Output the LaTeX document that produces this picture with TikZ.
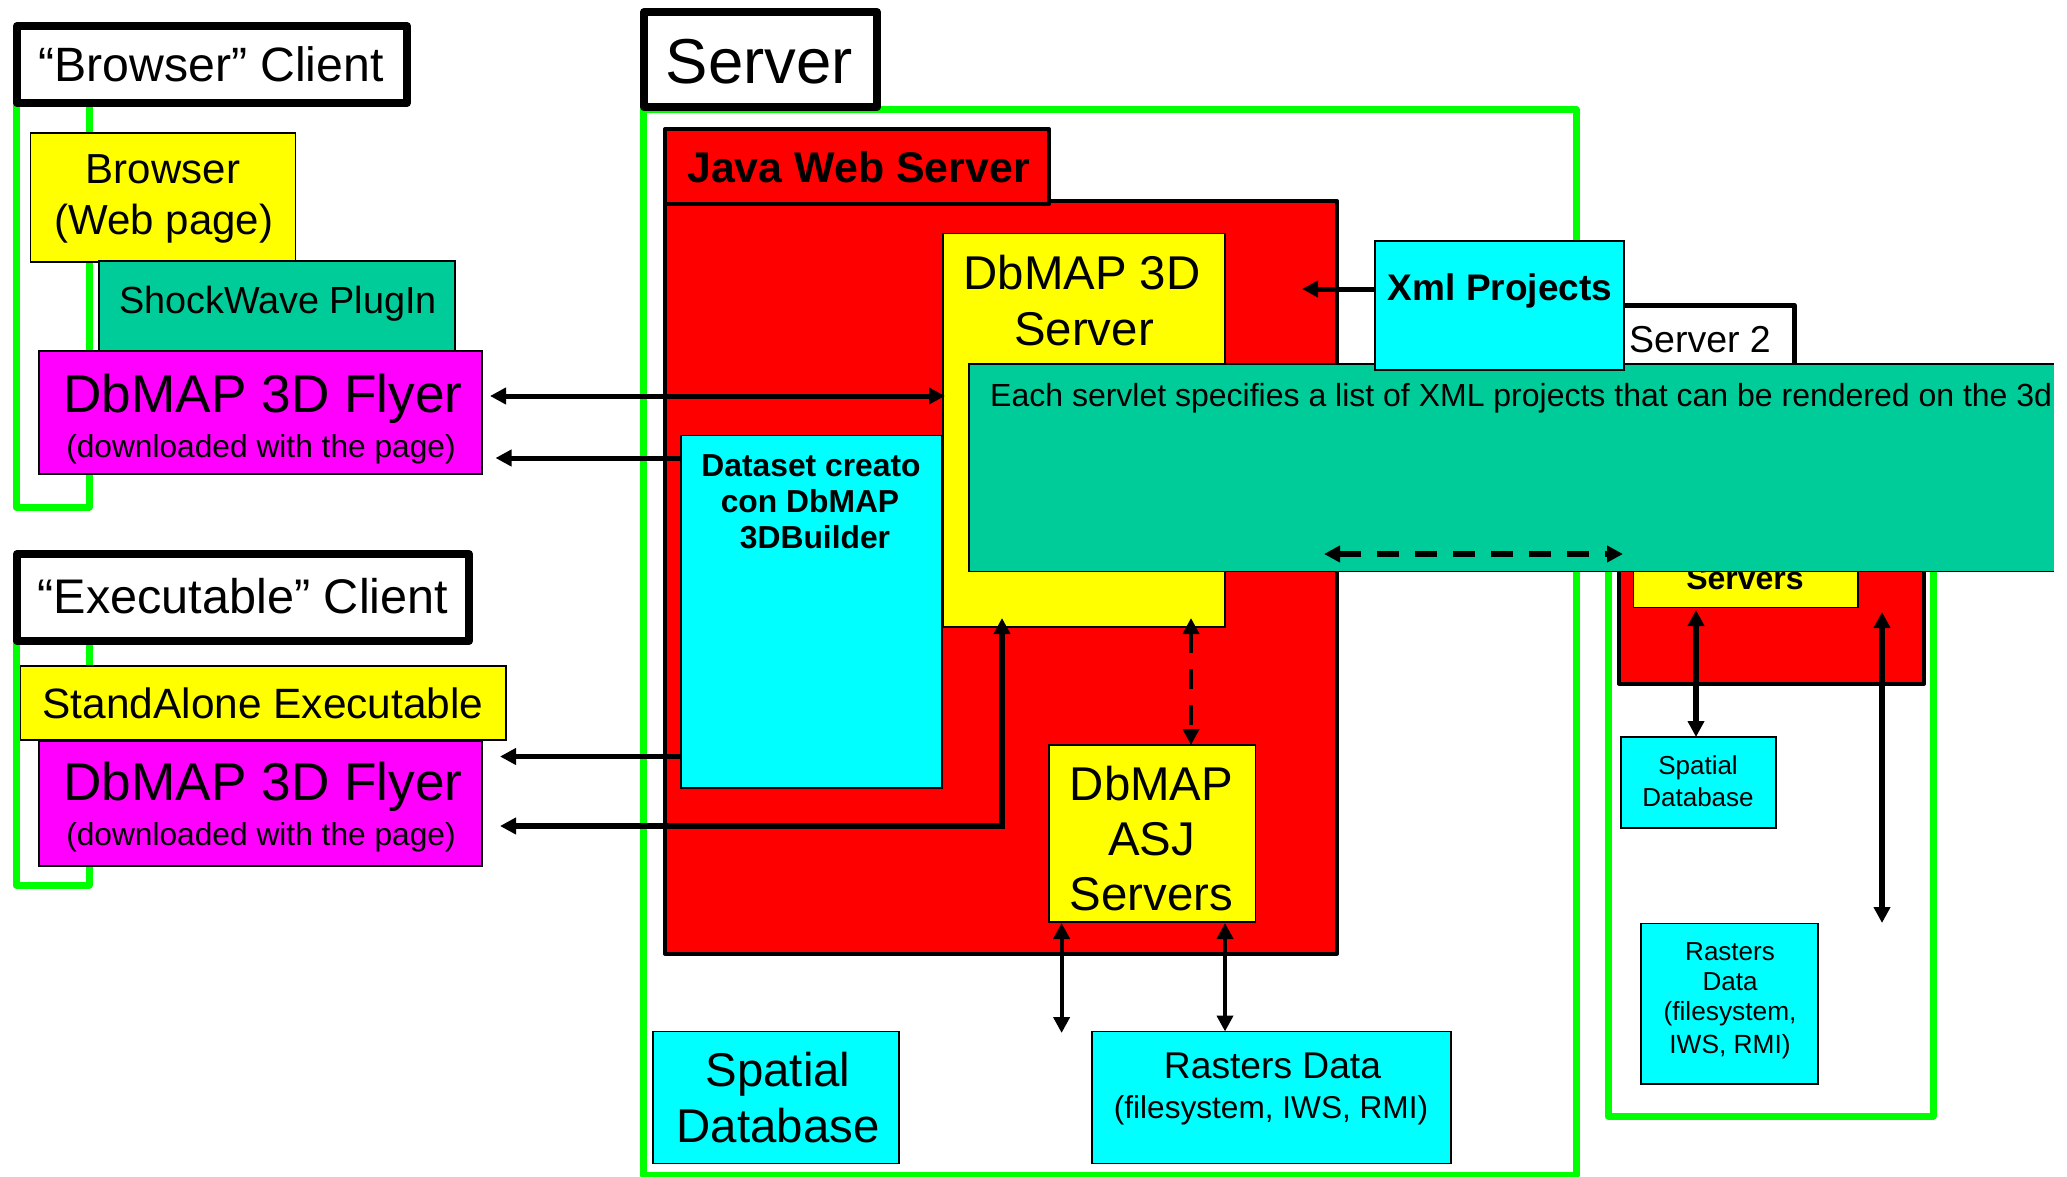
\documentclass[tikz,border=0pt]{standalone}
\usepackage{fontspec}
\setmainfont{Liberation Sans}
\usetikzlibrary{arrows.meta}
\definecolor{gfr}{HTML}{00FF00}
\definecolor{teal2}{HTML}{00CC99}
\definecolor{pyel}{HTML}{FFFF00}
\definecolor{pcyn}{HTML}{00FFFF}
\definecolor{pmag}{HTML}{FF00FF}
\definecolor{pred}{HTML}{FF0000}
\tikzset{
  box/.style={draw=black,line width=1.8pt,inner sep=0pt,outer sep=0pt},
  yel/.style={box,fill=pyel},
  cyn/.style={box,fill=pcyn},
  mag/.style={box,fill=pmag},
  tea/.style={box,fill=teal2},
  redbox/.style={box,fill=pred,line width=4pt,line join=round},
  titlebox/.style={box,fill=white,line width=8pt,line join=round},
  frame/.style={draw=gfr,line width=7pt,line join=round},
  lbl/.style={anchor=base,inner sep=0pt,outer sep=0pt,align=center},
  conn/.style={line width=5pt,draw=black,{Triangle[length=16pt,width=16pt]}-{Triangle[length=16pt,width=16pt]}},
  single/.style={line width=5pt,draw=black,-{Triangle[length=16pt,width=16pt]}},
  dash1/.style={conn,line width=4pt,dash pattern=on 20pt off 16pt},
  dash2/.style={conn,line width=6pt,dash pattern=on 22pt off 16pt},
}
% \bx{name}{x0}{y0}{x1}{y1}{style}
\newcommand{\bx}[6]{%
  \pgfmathsetmacro{\bw}{#4-#2}\pgfmathsetmacro{\bh}{#5-#3}%
  \pgfmathsetmacro{\bcx}{(#2+#4)/2}\pgfmathsetmacro{\bcy}{(#3+#5)/2}%
  \node[#6,minimum width=\bw pt,minimum height=\bh pt] (#1) at (\bcx,\bcy) {};}
% \tx{name}{x}{y of glyph centre}{size}{text}
\newcommand{\tx}[5]{%
  \pgfmathsetmacro{\by}{#3+0.36*#4}%
  \node[lbl] (#1) at (#2,\by) {\fontsize{#4}{#4}\selectfont #5};}
\begin{document}
\begin{tikzpicture}[x=1pt,y=-1pt]
\useasboundingbox (0,0) rectangle (2067,1177);
% green frames
\draw[frame] (16,103) rectangle (89,507);
\draw[frame] (16,641) rectangle (89,885);
\draw[frame] (643,109.5) rectangle (1576,1175);
\draw[frame] (1608,420) rectangle (1933,1116);

% Browser client
\bx{bct}{17}{26}{407}{103}{titlebox}
\tx{bctl}{211}{64}{48.2}{“Browser” Client}
\bx{brw}{30.5}{133}{295.5}{262}{yel}
\tx{brwa}{163}{168.5}{42}{Browser}
\tx{brwb}{164}{219}{42}{(Web page)}
\bx{shk}{99}{261}{455}{351}{tea}
\tx{shkl}{278}{300}{37.8}{ShockWave PlugIn}
\bx{fla}{39}{351}{482}{474}{mag}
\tx{flat}{263}{393.5}{53.2}{DbMAP 3D Flyer}
\tx{flas}{261}{446}{31.7}{(downloaded with the page)}

% Executable client
\bx{ect}{17}{554}{469}{641}{titlebox}
\tx{ectl}{243}{595.5}{48.6}{“Executable” Client}
\bx{sta}{20.5}{666}{506}{740}{yel}
\tx{stal}{263}{703}{42.4}{StandAlone Executable}
\bx{flb}{39}{741.5}{482}{866}{mag}
\tx{flbt}{263}{781}{53.2}{DbMAP 3D Flyer}
\tx{flbs}{261}{834}{31.7}{(downloaded with the page)}

% Server
\bx{sct}{644}{12}{877}{107}{titlebox}
\tx{sctl}{759.5}{61}{63.5}{Server}
\bx{jws}{665}{201}{1337}{953.5}{redbox}
\bx{jwt}{665}{129}{1049}{204}{redbox}
\tx{jwtl}{858.5}{167}{42.9}{\bfseries Java Web Server}
\bx{srv}{943}{233.5}{1225}{627}{yel}
\tx{srva}{1082}{272}{47.4}{DbMAP 3D}
\tx{srvb}{1084}{328}{47.4}{Server}
\bx{dst}{681}{435.5}{942}{788}{cyn}
\tx{dsta}{811}{465}{31.8}{\bfseries Dataset creato}
\tx{dstb}{810}{500.6}{31.8}{\bfseries con DbMAP}
\tx{dstc}{815}{537}{31.8}{\bfseries 3DBuilder}
\bx{asj}{1049}{745}{1255.5}{922}{yel}
\tx{asja}{1151.5}{783}{47.4}{DbMAP}
\tx{asjb}{1151.5}{838}{47.4}{ASJ}
\tx{asjc}{1151.5}{893.5}{47.4}{Servers}
\bx{sdb}{653}{1031.5}{899}{1163.5}{cyn}
\tx{sdba}{778}{1069}{47.4}{Spatial}
\tx{sdbb}{778}{1125.5}{47.4}{Database}
\bx{rst}{1092}{1031.5}{1451}{1163.5}{cyn}
\tx{rsta}{1272.5}{1065.5}{37.2}{Rasters Data}
\tx{rstb}{1271}{1107}{31.6}{(filesystem, IWS, RMI)}

% Server 2
\bx{s2t}{1600}{305}{1794}{380}{titlebox,line width=5pt}
\tx{s2tl}{1700}{339}{37.5}{Server 2}
\bx{r2}{1619}{400}{1924}{683.5}{redbox}
\bx{y2}{1633.5}{420}{1858}{607.5}{yel}
\tx{y2l}{1745}{578}{32}{\bfseries Servers}
\bx{sd2}{1621}{737}{1776}{828}{cyn}
\tx{sd2a}{1698}{765}{26}{Spatial}
\tx{sd2b}{1698}{797}{26}{Database}
\bx{rs2}{1641}{923.5}{1818}{1084}{cyn}
\tx{rs2a}{1730}{951}{26}{Rasters}
\tx{rs2b}{1730}{981}{26}{Data}
\tx{rs2c}{1730}{1011}{26.3}{(filesystem,}
\tx{rs2d}{1730}{1044}{26.3}{IWS, RMI)}

% connectors
\coordinate (p1) at (490,396);
\coordinate (p2) at (945,396);
\draw[conn] (p1) -- (p2);
\coordinate (p3) at (495.5,458);
\draw[single] (dst.west |- p3) -- (p3);
\coordinate (p4) at (500,756.5);
\draw[single] (dst.west |- p4) -- (p4);
\coordinate (p5) at (500,826);
\coordinate (p6) at (1002,618);
\draw[conn,line width=6pt,sharp corners] (p5) -- (p6 |- p5) -- (p6);
\coordinate (p7) at (1191,618);
\draw[dash1] (p7) -- (p7 |- asj.north);
\coordinate (p8) at (1061.6,923);
\coordinate (p9) at (1061.6,1033);
\draw[conn,line width=4pt] (p8) -- (p9);
\coordinate (p10) at (1225,923);
\draw[conn,line width=4pt] (p10) -- (p10 |- rst.north);
\coordinate (p11) at (1696,610);
\draw[conn,line width=6pt] (p11) -- (p11 |- sd2.north);
\coordinate (p12) at (1882,612);
\coordinate (p13) at (1882,923);
\draw[conn,line width=6pt] (p12) -- (p13);

% big note band (open on the right, where it is cut off)
\bx{note}{969}{364}{2054}{571.5}{fill=teal2,inner sep=0pt,outer sep=0pt}
\draw[line width=1.8pt] (note.north east) -- (note.north west) -- (note.south west) -- (note.south east);
\node[anchor=base west,inner sep=0pt] (notel) at (990,406.5) {\fontsize{32}{32}\selectfont Each servlet specifies a list of XML projects that can be rendered on the 3d};
\bx{xml}{1375}{241}{1624}{370}{cyn}
\tx{xmll}{1500}{287}{37}{\bfseries Xml Projects}
\coordinate (p14) at (1302,289);
\draw[single] (xml.west |- p14) -- (p14);
\coordinate (p15) at (1324,554);
\coordinate (p16) at (1623,554);
\draw[dash2] (p15) -- (p16);
\end{tikzpicture}
\end{document}
